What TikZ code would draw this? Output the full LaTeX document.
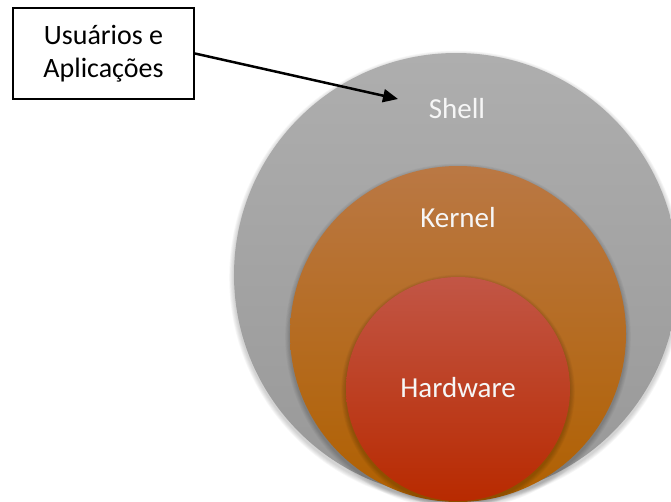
\documentclass[tikz,border=0pt]{standalone}
\usepackage{fontspec}
\setmainfont{Carlito}
\usetikzlibrary{arrows.meta}
\definecolor{shellTop}{RGB}{174,174,174}
\definecolor{shellBot}{RGB}{152,152,152}
\definecolor{kernTop}{RGB}{186,120,68}
\definecolor{kernBot}{RGB}{176,96,0}
\definecolor{hwTop}{RGB}{194,86,70}
\definecolor{hwBot}{RGB}{184,42,0}
\definecolor{txt}{RGB}{246,246,246}
\tikzset{
  layer/.style={circle, inner sep=0pt, draw=none},
  lbl/.style={text=txt, font=\fontsize{29}{35}\selectfont, inner sep=0pt},
  boxnode/.style={draw=black, line width=2pt, fill=white, minimum width=181pt, minimum height=91pt, align=center, font=\fontsize{28}{33}\selectfont},
  pointer/.style={line width=2.5pt, -{Triangle[length=15pt,width=13pt]}}
}
\newcommand{\softshadow}[3]{%
  \foreach \k in {1,...,6} {\fill[black, opacity=0.03] (#1,#2-2.5) circle ({#3+\k*0.8});}%
}
\begin{document}
\begin{tikzpicture}[x=1pt,y=1pt]
\useasboundingbox (0,0) rectangle (671,-501);
\clip (0,0) rectangle (671,-501);
% Shell
\softshadow{456}{-275}{222}
\node[layer, minimum size=444pt, top color=shellTop, bottom color=shellBot] (shell) at (456,-275) {};
% Kernel
\softshadow{458}{-334}{168}
\node[layer, minimum size=336pt, top color=kernTop, bottom color=kernBot] (kernel) at (458,-334) {};
% Hardware
\softshadow{458}{-389}{112}
\node[layer, minimum size=224pt, top color=hwTop, bottom color=hwBot] (hw) at (458,-389) {};
% labels
\node[lbl] (shelltxt) at (457,-109) {Shell};
\node[lbl] (kerneltxt) at (458,-218) {Kernel};
\node[lbl] (hwtxt) at (458,-388) {Hardware};
% box and arrow
\node[boxnode] (users) at (103.5,-53.5) {Usuários e\\Aplicações};
\coordinate (tip) at (398,-99);
\draw[pointer] (users.east) -- (tip);
\end{tikzpicture}
\end{document}
